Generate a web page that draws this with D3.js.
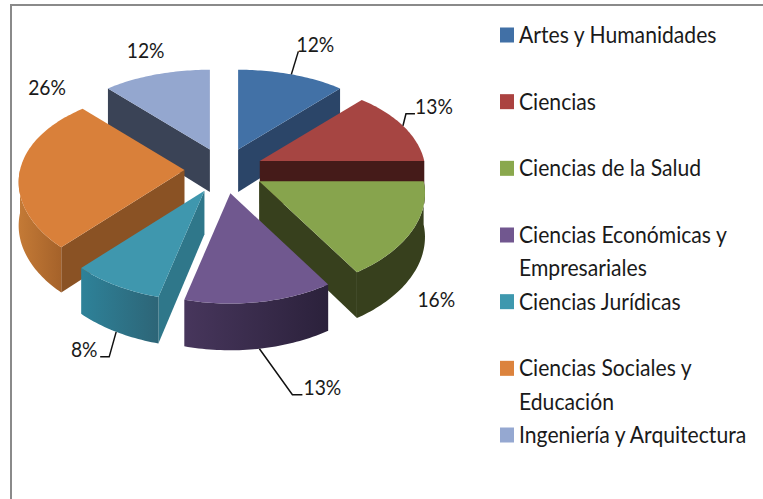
<!DOCTYPE html>
<html>
<head>
<meta charset="utf-8">
<script src="https://cdnjs.cloudflare.com/ajax/libs/d3/7.8.5/d3.min.js"></script>
<style>
  html, body { margin: 0; padding: 0; background: #fff; }
  text { font-family: Lato, "Noto Sans", sans-serif; fill: #1a1a1a; }
</style>
</head>
<body>
<div id="chart"></div>
<script>
var categories = ["Artes y Humanidades", "Ciencias", "Ciencias de la Salud", "Ciencias Económicas y Empresariales", "Ciencias Jurídicas", "Ciencias Sociales y Educación", "Ingeniería y Arquitectura"];
var values = [12, 13, 16, 13, 8, 26, 12];
var legendLines = [["Artes y Humanidades"], ["Ciencias"], ["Ciencias de la Salud"], ["Ciencias Económicas y", "Empresariales"], ["Ciencias Jurídicas"], ["Ciencias Sociales y", "Educación"], ["Ingeniería y Arquitectura"]];

var topColors = ["#4271a6", "#a64542", "#87a44d", "#70588f", "#3f97ae", "#d9803a", "#94a7cf"];
var edgeColors = ["#2b4568", "#451b19", "#37401d", "#2b213c", "#2f778a", "#8a5224", "#3a4356"];
var rimLeft = ["#2b4568", "#451b19", "#37401d", "#47365c", "#2e8299", "#c47a36", "#3a4356"];
var rimRight = ["#2b4568", "#451b19", "#37401d", "#2b213b", "#2d6577", "#a5622a", "#3a4356"];
var legendColors = ["#4170a6", "#ab4240", "#8aa84d", "#71578f", "#3e98ae", "#dc833d", "#95a8d1"];

// label offset from the rim point of each slice, elbow points for the leader lines
var labelOffsets = [[24, -30], [31, -19], [24, 25], [63, 39], [-32, 18], [27, -82], [-11, -24]];
var leaders = [[[7, -23]], [[3, -12], [12, -12]], null, [[33, 46], [43, 46]], [[-7, 25], [-16, 25]], null, null];

var w = 763;
var h = 499;
var cx = 224;
var cy = 170;
var rx = 164.5;
var ry = 95;
var explode = 0.24;
var perspX = 0.13;
var perspY = 0.16;
var depthBase = 43;
var textSquash = 0.94;

var svg = d3.select("#chart")
            .append("svg")
            .attr("width", w)
            .attr("height", h)
            .style("display", "block");

svg.append("path")
   .attr("d", "M11,499V5H763")
   .attr("fill", "none")
   .attr("stroke", "#8a8a8a")
   .attr("stroke-width", 2);

var pie = d3.pie().sort(null).value(function(d) { return d; });
var line = d3.line();

// pie plane -> screen offset, closer to the viewer is bigger
function project(u, v) {
  return [rx * u * (1 + perspX * v), ry * v * (1 + perspY * v)];
}

function depth(v) {
  return depthBase * (1 + 0.07 * v);
}

var defs = svg.append("defs");

var slices = pie(values).map(function(d, i) {
  var mid = (d.startAngle + d.endAngle) / 2;
  var off = project(explode * Math.sin(mid), -explode * Math.cos(mid));
  return {
    i: i,
    start: d.startAngle,
    end: d.endAngle,
    mid: mid,
    ax: cx + off[0],
    ay: cy + off[1],
    offV: -explode * Math.cos(mid)
  };
});

function rimPoint(s, t, down) {
  var v = -Math.cos(t);
  var p = project(Math.sin(t), v);
  return [s.ax + p[0], s.ay + p[1] + (down ? depth(v + s.offV) : 0)];
}

function arcPoints(s, a, b, down) {
  var n = Math.max(2, Math.ceil((b - a) / 0.02));
  return d3.range(n + 1).map(function(k) {
    return rimPoint(s, a + (b - a) * k / n, down);
  });
}

// back slices first so the front ones cover them
var ordered = slices.slice().sort(function(a, b) { return d3.ascending(a.offV, b.offV); });

var pieG = svg.append("g");

ordered.forEach(function(s) {
  var g = pieG.append("g");
  var apex = [s.ax, s.ay];
  var apexDown = [s.ax, s.ay + depth(s.offV)];

  // side walls, only the ones that face the viewer
  [[s.start, s.start - Math.PI / 2], [s.end, s.end + Math.PI / 2]].forEach(function(e) {
    if (-Math.cos(e[1]) > 0.01) {
      g.append("path")
       .attr("d", line([apex, rimPoint(s, e[0], false), rimPoint(s, e[0], true), apexDown]) + "Z")
       .attr("fill", edgeColors[s.i]);
    }
  });

  // outer wall
  var a = Math.max(s.start, Math.PI / 2);
  var b = Math.min(s.end, Math.PI * 1.5);
  if (b > a) {
    var id = "rim" + s.i;
    var xs = arcPoints(s, a, b, false).map(function(p) { return p[0]; });
    var grad = defs.append("linearGradient")
                   .attr("id", id)
                   .attr("gradientUnits", "userSpaceOnUse")
                   .attr("x1", d3.min(xs)).attr("x2", d3.max(xs))
                   .attr("y1", 0).attr("y2", 0);
    grad.append("stop").attr("offset", 0).attr("stop-color", rimLeft[s.i]);
    grad.append("stop").attr("offset", 1).attr("stop-color", rimRight[s.i]);
    g.append("path")
     .attr("d", line(arcPoints(s, a, b, false).concat(arcPoints(s, a, b, true).reverse())) + "Z")
     .attr("fill", "url(#" + id + ")");
  }

  // top face
  g.append("path")
   .attr("d", line([apex].concat(arcPoints(s, s.start, s.end, false))) + "Z")
   .attr("fill", topColors[s.i]);
});

// data labels and leader lines
slices.forEach(function(s) {
  var v = -Math.cos(s.mid);
  var anchor = rimPoint(s, s.mid, v > 0.05);
  var lo = labelOffsets[s.i];
  if (leaders[s.i]) {
    var pts = [anchor].concat(leaders[s.i].map(function(o) { return [anchor[0] + o[0], anchor[1] + o[1]]; }));
    svg.append("path")
       .attr("d", line(pts))
       .attr("fill", "none")
       .attr("stroke", "#111")
       .attr("stroke-width", 1.5);
  }
  svg.append("text")
     .attr("transform", "translate(" + (anchor[0] + lo[0]) + "," + (anchor[1] + lo[1]) + ") scale(" + textSquash + ",1)")
     .attr("dy", "0.35em")
     .attr("text-anchor", "middle")
     .attr("font-size", 20.5)
     .text(values[s.i] + "%");
});

// legend
var legendY = d3.scaleLinear().domain([0, 6]).range([35, 435]);
var legend = svg.selectAll(".legend")
                .data(categories)
                .enter()
                .append("g")
                .attr("class", "legend")
                .attr("transform", function(d, i) { return "translate(500," + legendY(i) + ")"; });

legend.append("rect")
      .attr("x", 0)
      .attr("y", -7.5)
      .attr("width", 14)
      .attr("height", 15)
      .attr("fill", function(d, i) { return legendColors[i]; });

legend.each(function(d, i) {
  var g = d3.select(this);
  legendLines[i].forEach(function(t, k) {
    g.append("text")
     .attr("transform", "translate(19," + (k * 33.5) + ") scale(" + textSquash + ",1)")
     .attr("dy", "0.35em")
     .attr("font-size", 22.5)
     .text(t);
  });
});
</script>
</body>
</html>
